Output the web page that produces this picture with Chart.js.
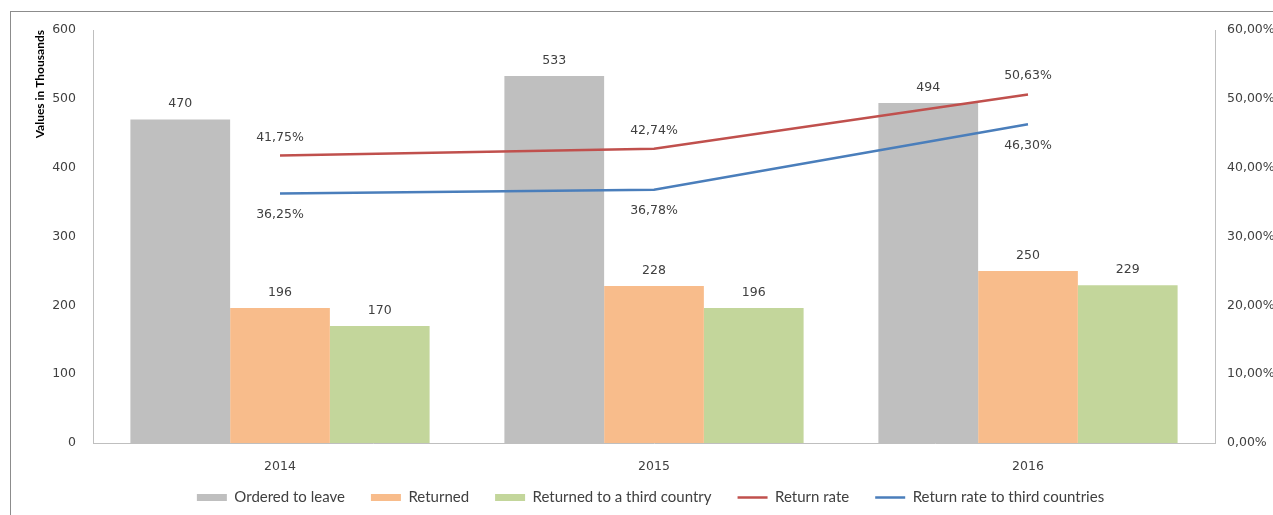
<!DOCTYPE html>
<html>
<head>
<meta charset="utf-8">
<script src="https://cdn.jsdelivr.net/npm/chart.js@4.4.0/dist/chart.umd.min.js"></script>
<style>
  html, body { margin: 0; padding: 0; background: #fff; }
  #wrap { width: 1273px; height: 515px; }
</style>
</head>
<body>
<div id="wrap"><canvas id="myChart" width="1273" height="515"></canvas></div>
<script>
const years = ['2014', '2015', '2016'];
const orderedToLeave = [470, 533, 494];
const returned = [196, 228, 250];
const returnedThird = [170, 196, 229];
const returnRate = [41.75, 42.74, 50.63];
const returnRateThird = [36.25, 36.78, 46.30];
const leftTicks = [0, 100, 200, 300, 400, 500, 600];
const rightTicks = [0, 10, 20, 30, 40, 50, 60];

const pct = v => v.toFixed(2).replace('.', ',') + '%';

// frame around the chart, like the exported image
const framePlugin = {
    id: 'frame',
    beforeDraw(chart) {
        const c = chart.ctx;
        c.save();
        c.strokeStyle = '#8c8c8c';
        c.lineWidth = 1;
        c.strokeRect(10.5, 11.5, 1400, 700);
        c.restore();
    }
};

// nudge the legend a bit up and right
const legendShift = {
    id: 'legendShift',
    afterLayout(chart) {
        const lg = chart.legend;
        if (!lg) return;
        lg.top -= 9; lg.bottom -= 9;
        lg.left += 14; lg.right += 14;
    }
};

// value labels on bars and line points
const labelPlugin = {
    id: 'valueLabels',
    afterDatasetsDraw(chart) {
        const c = chart.ctx;
        c.save();
        c.font = '12.5px "DejaVu Sans"';
        c.fillStyle = '#404040';
        c.textAlign = 'center';
        chart.data.datasets.forEach((ds, i) => {
            const meta = chart.getDatasetMeta(i);
            meta.data.forEach((el, j) => {
                const v = ds.data[j];
                if (ds.type === 'line') {
                    if (ds.labelPos === 'above') {
                        c.textBaseline = 'bottom';
                        c.fillText(pct(v), el.x, el.y - 12);
                    } else {
                        c.textBaseline = 'top';
                        c.fillText(pct(v), el.x, el.y + 15);
                    }
                } else {
                    c.textBaseline = 'bottom';
                    c.fillText(String(v), el.x, el.y - 9);
                }
            });
        });
        c.restore();
    }
};

const ctx = document.getElementById('myChart').getContext('2d');
new Chart(ctx, {
    type: 'bar',
    data: {
        labels: years,
        datasets: [
            { label: 'Ordered to leave', data: orderedToLeave, backgroundColor: '#bfbfbf', pointStyle: 'rect', yAxisID: 'y', order: 1 },
            { label: 'Returned', data: returned, backgroundColor: '#f8bc8b', pointStyle: 'rect', yAxisID: 'y', order: 1 },
            { label: 'Returned to a third country', data: returnedThird, backgroundColor: '#c3d69b', pointStyle: 'rect', yAxisID: 'y', order: 1 },
            { type: 'line', label: 'Return rate', data: returnRate, borderColor: '#c0504d', backgroundColor: '#c0504d',
              borderWidth: 2.5, pointRadius: 0, pointStyle: 'line', tension: 0, yAxisID: 'y1', order: 0, labelPos: 'above' },
            { type: 'line', label: 'Return rate to third countries', data: returnRateThird, borderColor: '#4a7ebb', backgroundColor: '#4a7ebb',
              borderWidth: 2.5, pointRadius: 0, pointStyle: 'line', tension: 0, yAxisID: 'y1', order: 0, labelPos: 'below' }
        ]
    },
    options: {
        responsive: false,
        animation: false,
        layout: { padding: { left: 0, right: 0, top: 30, bottom: -9 } },
        datasets: {
            bar: { categoryPercentage: 0.8, barPercentage: 1.0 }
        },
        plugins: {
            tooltip: { enabled: false },
            legend: {
                position: 'bottom',
                labels: {
                    usePointStyle: true,
                    pointStyleWidth: 30,
                    boxHeight: 7,
                    padding: 26,
                    color: '#404040',
                    font: { family: 'Lato', size: 15 },
                    sort: (a, b) => a.datasetIndex - b.datasetIndex
                }
            }
        },
        scales: {
            x: {
                grid: { display: false },
                border: { display: true, color: '#bfbfbf' },
                ticks: { color: '#404040', font: { family: 'DejaVu Sans', size: 12.5 }, padding: 8 },
                afterFit: s => { s.height = 30; }
            },
            y: {
                position: 'left',
                min: 0,
                max: 600,
                afterBuildTicks: s => { s.ticks = leftTicks.map(v => ({ value: v })); },
                grid: { display: false },
                border: { display: true, color: '#bfbfbf' },
                ticks: { color: '#404040', font: { family: 'DejaVu Sans', size: 12.5 }, padding: 9 },
                title: {
                    display: true,
                    text: 'Values in Thousands',
                    align: 'end',
                    color: '#000',
                    font: { family: 'Lato', size: 12, weight: 'bold' },
                    padding: { top: 33, bottom: 0 }
                },
                afterFit: s => { s.width = 93; }
            },
            y1: {
                position: 'right',
                min: 0,
                max: 60,
                afterBuildTicks: s => { s.ticks = rightTicks.map(v => ({ value: v })); },
                grid: { display: false, drawOnChartArea: false },
                border: { display: true, color: '#bfbfbf' },
                ticks: { color: '#404040', font: { family: 'DejaVu Sans', size: 12.5 }, padding: 4, callback: v => pct(v) },
                afterFit: s => { s.width = 58; }
            }
        }
    },
    plugins: [framePlugin, legendShift, labelPlugin]
});
</script>
</body>
</html>
